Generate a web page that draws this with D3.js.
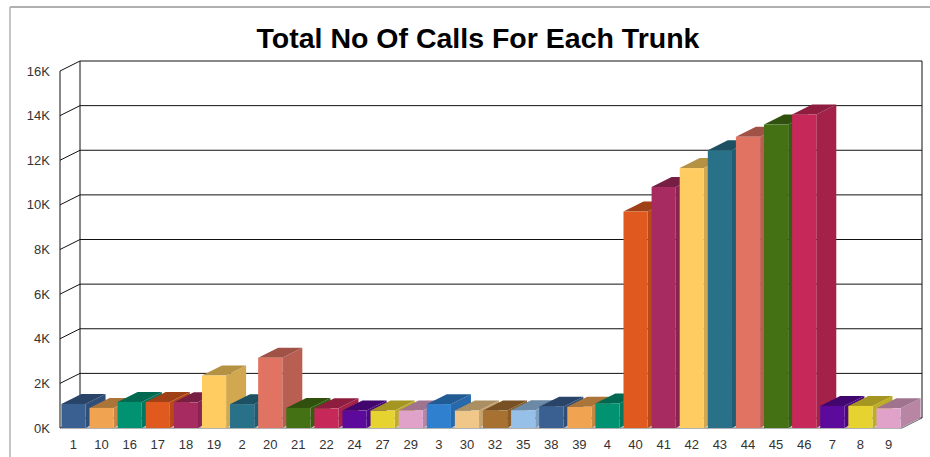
<!DOCTYPE html>
<html>
<head>
<meta charset="utf-8">
<script src="https://cdn.jsdelivr.net/npm/d3@7"></script>
<style>
  body { margin: 0; background: #fff; }
  svg { display: block; font-family: "Liberation Sans", Arial, sans-serif; }
</style>
</head>
<body>
<div id="chart"></div>
<script>
// trunk ids, in the order the chart shows them
const trunks = ["1", "10", "16", "17", "18", "19", "2", "20", "21", "22", "24", "27", "29", "3", "30",
    "32", "35", "38", "39", "4", "40", "41", "42", "43", "44", "45", "46", "7", "8", "9"];

// total calls per trunk
const calls = [1080, 900, 1170, 1170, 1150, 2350, 1070, 3150, 900, 880, 780, 780, 780, 1070, 780,
    780, 800, 950, 950, 1100, 9700, 10800, 11650, 12450, 13050, 13600, 14050, 990, 990, 880];

const yTicks = [0, 2000, 4000, 6000, 8000, 10000, 12000, 14000, 16000];

const palette = ["#3a6092", "#f0a452", "#019271", "#e05a20", "#a72a60", "#fecc60", "#297089",
    "#e07362", "#447114", "#c7285a", "#5b0a9b", "#e7d330", "#e0a2c8", "#2f80cf", "#f0c788",
    "#a77132", "#97c0e8"];

const W = 930, H = 457;
const dx = 20, dy = -10;   // depth of the 3d box

const svg = d3.select("#chart").append("svg")
    .attr("width", W)
    .attr("height", H);

// outer panel border
svg.append("line").attr("x1", 10).attr("y1", 7).attr("x2", W).attr("y2", 7)
    .attr("stroke", "#b0b0b0").attr("stroke-width", 2);
svg.append("line").attr("x1", 10).attr("y1", 7).attr("x2", 10).attr("y2", H)
    .attr("stroke", "#b0b0b0").attr("stroke-width", 1.5);

svg.append("text")
    .attr("x", 478).attr("y", 48)
    .attr("text-anchor", "middle")
    .style("font-size", "28.5px").style("font-weight", "bold")
    .text("Total No Of Calls For Each Trunk");

var x = d3.scaleBand()
    .domain(trunks)
    .range([60, 902])
    .paddingInner(0.14)
    .paddingOuter(0.05);

var y = d3.scaleLinear()
    .domain([0, 16000])
    .range([428, 71]);

const x0 = 60, x1 = 902;

// back wall + grid
const grid = svg.append("g").attr("stroke", "#111").attr("fill", "none");
yTicks.forEach(function(t) {
    const yy = y(t);
    grid.append("path")
        .attr("d", `M${x0},${yy}L${x0 + dx},${yy + dy}L${x1 + dx},${yy + dy}`);
});
grid.append("line").attr("x1", x0 + dx).attr("y1", y(16000) + dy).attr("x2", x0 + dx).attr("y2", y(0) + dy);
grid.append("line").attr("x1", x1 + dx).attr("y1", y(16000) + dy).attr("x2", x1 + dx).attr("y2", y(0) + dy);
grid.append("line").attr("x1", x0).attr("y1", y(16000)).attr("x2", x0).attr("y2", y(0));

// floor front edge
svg.append("path")
    .attr("d", `M${x0},${y(0)}L${x1},${y(0)}L${x1 + dx},${y(0) + dy}`)
    .attr("stroke", "#666").attr("fill", "none");

// y labels
svg.append("g").selectAll("text")
    .data(yTicks)
    .enter().append("text")
    .attr("x", 50)
    .attr("y", d => y(d))
    .attr("dy", "0.35em")
    .attr("text-anchor", "end")
    .style("font-size", "13px")
    .attr("fill", "#333")
    .text(d => (d / 1000) + "K");

// bars, left to right so the next front face covers the previous side
const bars = svg.append("g");
trunks.forEach(function(t, i) {
    const c = d3.color(palette[i % palette.length]);
    const bx = x(t), bw = x.bandwidth();
    const top = y(calls[i]), base = y(0);
    const g = bars.append("g");
    g.append("path")
        .attr("d", `M${bx + bw},${top}L${bx + bw + dx},${top + dy}L${bx + bw + dx},${base + dy}L${bx + bw},${base}Z`)
        .attr("fill", c.darker(0.55));
    g.append("path")
        .attr("d", `M${bx},${top}L${bx + dx},${top + dy}L${bx + bw + dx},${top + dy}L${bx + bw},${top}Z`)
        .attr("fill", c.darker(0.95));
    g.append("rect")
        .attr("x", bx).attr("y", top)
        .attr("width", bw).attr("height", base - top)
        .attr("fill", c);
});

// x labels
svg.append("g").selectAll("text")
    .data(trunks)
    .enter().append("text")
    .attr("x", d => x(d) + x.bandwidth() / 2)
    .attr("y", 449)
    .attr("text-anchor", "middle")
    .style("font-size", "13px")
    .attr("fill", "#333")
    .text(d => d);
</script>
</body>
</html>
